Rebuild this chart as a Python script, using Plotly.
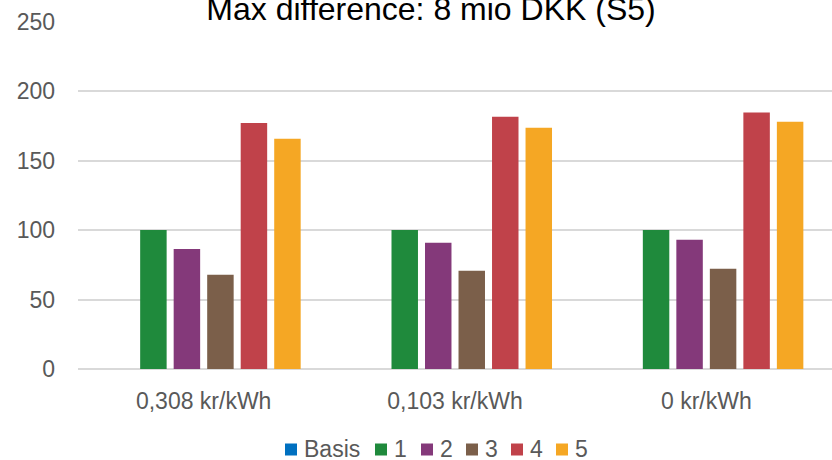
import plotly.graph_objects as go

categories = ["0,308 kr/kWh", "0,103 kr/kWh", "0 kr/kWh"]
series_names = ["Basis", "1", "2", "3", "4", "5"]
basis = [0, 0, 0]
s1 = [100, 100, 100]
s2 = [86.3, 90.8, 93]
s3 = [67.8, 70.7, 72.2]
s4 = [177, 181.5, 184.6]
s5 = [165.7, 173.6, 178]
colors = ["#0070c0", "#1f8a3c", "#84397a", "#7b5f4a", "#c0424a", "#f5a724"]
title_text = "Max difference: 8 mio DKK (S5)"
y_ticks = [0, 50, 100, 150, 200, 250]

font_family = "Liberation Sans, Arial, sans-serif"
W, H = 832, 460
L, R, T, B = 78, 0, 21, 91
plot_w = W - L - R
plot_h = H - T - B

fig = go.Figure()
for name, vals, col in zip(series_names, [basis, s1, s2, s3, s4, s5], colors):
    fig.add_trace(go.Bar(x=categories, y=vals, name=name, marker_color=col,
                         marker_line_width=0, showlegend=False))

# custom legend (compact, like the original)
legend_left_px = [285, 375, 421, 466, 511, 556]
legend_center_py = 449.5
sq = 12
shapes = []
annotations = []
for name, col, lx in zip(series_names, colors, legend_left_px):
    x0 = (lx - L) / plot_w
    x1 = (lx + sq - L) / plot_w
    y0 = (H - B - (legend_center_py + sq / 2)) / plot_h
    y1 = (H - B - (legend_center_py - sq / 2)) / plot_h
    shapes.append(dict(type="rect", xref="paper", yref="paper", x0=x0, x1=x1,
                       y0=y0, y1=y1, fillcolor=col, line=dict(width=0)))
    annotations.append(dict(text=name, xref="paper", yref="paper",
                            x=(lx + sq + 5 - L) / plot_w, xanchor="left",
                            y=(H - B - legend_center_py) / plot_h, yanchor="middle",
                            showarrow=False,
                            font=dict(family=font_family, size=23, color="#595959")))

fig.update_layout(
    width=W, height=H,
    margin=dict(l=L, r=R, t=T, b=B, autoexpand=False),
    paper_bgcolor="white", plot_bgcolor="white",
    barmode="group", bargap=0.2, bargroupgap=0.21,
    font=dict(family=font_family, size=23, color="#595959"),
    title=dict(text=title_text, x=431/832, xanchor="center",
               y=1 - 20/460, yanchor="bottom", yref="container",
               font=dict(family=font_family, size=32, color="#000000"), pad=dict(b=0)),
    showlegend=False,
    shapes=shapes,
    annotations=annotations,
)
fig.update_yaxes(range=[0, 250.5], tickvals=y_ticks, showgrid=True, gridcolor="#d9d9d9",
                 gridwidth=2, zeroline=True, zerolinecolor="#d9d9d9", zerolinewidth=2,
                 showline=False, ticks="", ticklabelstandoff=22, automargin=False,
                 tickfont=dict(size=23, color="#595959"))
fig.update_xaxes(showline=False, ticks="", tickfont=dict(size=23, color="#595959"),
                 ticklabelstandoff=16, automargin=False)

fig.write_html("out.html",
               config={"displayModeBar": False},
               post_script="document.body.style.margin='0';document.body.style.overflow='hidden';")
